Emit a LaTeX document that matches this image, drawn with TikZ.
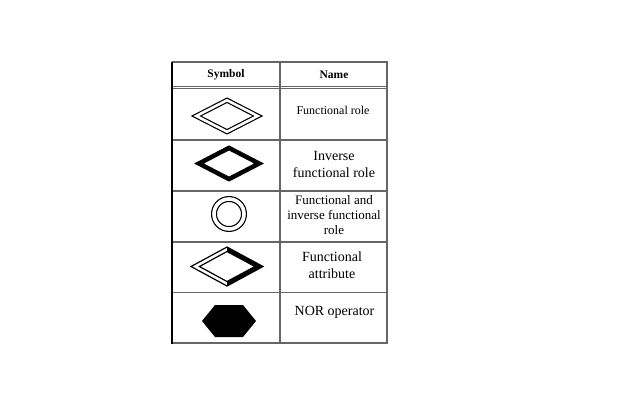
\documentclass[tikz,border=0pt]{standalone}
\usepackage{fontspec}
\setmainfont{Liberation Serif}
\usetikzlibrary{shapes.geometric}

\begin{document}
\begin{tikzpicture}[x=1pt,y=-1pt,
    rule/.style={draw=black!60,line width=1.1pt},
    head/.style={font=\bfseries\fontsize{11.5}{14}\selectfont},
    big/.style={align=center,font=\fontsize{14}{17}\selectfont},
    small/.style={align=center,font=\fontsize{13}{15}\selectfont}]
    \useasboundingbox (0,0) rectangle (640,400);

    % table rules
    \draw[rule] (172,62) -- (387,62) -- (387,343) -- (172,343);
    \draw[rule] (280,62) -- (280,343);
    \draw[rule] (172,86.5) -- (387,86.5);
    \draw[rule] (172,88.7) -- (387,88.7);
    \foreach \y in {140,191,242,292.5}
        \draw[rule] (172,\y) -- (387,\y);
    \draw[line width=2.5pt] (172,61.5) -- (172,343.5);

    % header
    \node[head] (hsym) at (226,75) {Symbol};
    \node[head] (hname) at (334,75) {Name};

    % symbols
    \node[diamond,draw,double,line width=1.2pt,double distance=2.6pt,
        minimum width=62pt,minimum height=32pt,inner sep=0pt] (frole) at (227,116) {};
    \node[diamond,draw,line width=4.5pt,
        minimum width=62pt,minimum height=33pt,inner sep=0pt] (invrole) at (229,163.5) {};
    \node[circle,draw,double,line width=1.2pt,double distance=3.6pt,
        minimum size=30pt,inner sep=0pt] (both) at (229,214) {};
    \fill (227,247) -- (263,266.5) -- (227,286) -- (227,281.5) -- (255,266.5) -- (227,251.5) -- cycle;
    \draw[line width=1.2pt,line join=miter] (227,247) -- (263,266.5) -- (227,286) -- (191,266.5) -- cycle;
    \draw[line width=1.2pt,line join=miter] (227,251.5) -- (255,266.5) -- (227,281.5) -- (199.5,266.5) -- cycle;
    \fill (202,321) -- (215,305) -- (243,305) -- (256,321) -- (243,337) -- (215,337) -- cycle;

    % names
    \node[small,font=\fontsize{12}{15}\selectfont] (tfrole) at (333,110) {Functional role};
    \node[big] (tinvrole) at (334,164) {Inverse\\functional role};
    \node[small] (tboth) at (334,215) {Functional and\\inverse functional\\role};
    \node[big] (tattr) at (332,265) {Functional\\attribute};
    \node[big] (tnor) at (334.5,312) {NOR operator};
\end{tikzpicture}
\end{document}
